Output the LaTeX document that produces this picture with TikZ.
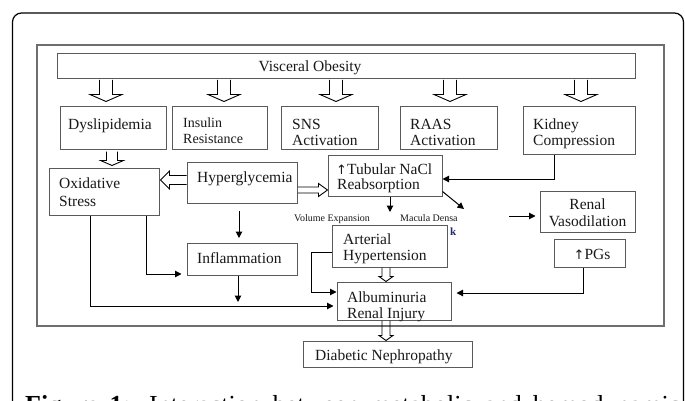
\documentclass[tikz,border=0pt]{standalone}
\usepackage{fontspec}
\setmainfont{Liberation Serif}
\newfontfamily\arrowfont{DejaVu Sans}
\usetikzlibrary{calc,arrows.meta}
\definecolor{boxgray}{RGB}{90,90,90}
\definecolor{framegray}{RGB}{110,110,110}
\definecolor{txtblack}{RGB}{25,25,25}
\definecolor{kblue}{RGB}{30,40,110}
\newcommand\upar{{\arrowfont\fontsize{13}{13}\selectfont ↑}}
\tikzset{
  box/.style={draw=boxgray, line width=1pt, rectangle, inner sep=0pt},
  txt/.style={inner sep=0pt, anchor=base west, align=left, text=txtblack, font=\fontsize{15.5}{17}\selectfont},
  ctxt/.style={txt, anchor=base, align=center},
  small/.style={inner sep=0pt, anchor=base west, text=txtblack, font=\fontsize{10}{11}\selectfont},
  arr/.style={draw=black, line width=1pt, -{Triangle[length=6.5pt,width=6.5pt]}},
  hol/.style={draw=black, line width=0.9pt, line join=miter},
}
\newcommand\hollowarrow[5]{%
  \coordinate (hA) at #1;
  \coordinate (hB) at #2;
  \coordinate (hC) at ($(hB)!#5!(hA)$);
  \draw[hol] ($(hA)!#3!90:(hB)$) -- ($(hC)!#3!-90:(hA)$) -- ($(hC)!#4!-90:(hA)$)
    -- (hB) -- ($(hC)!#4!90:(hA)$) -- ($(hC)!#3!90:(hA)$) -- ($(hA)!#3!-90:(hB)$);
}
\begin{document}
\begin{tikzpicture}[x=1pt,y=-1pt]
\useasboundingbox (0,0) rectangle (685,401);
\clip (0,0) rectangle (685,401);
\fill[white] (0,0) rectangle (685,401);

% frames
\draw[black, line width=1.2pt, rounded corners=9pt] (12.5,440) -- (12.5,13) -- (683.5,13) -- (683.5,440);
\draw[framegray, line width=1.5pt] (37,45) rectangle (664,326);

% boxes
\node[box, minimum width=578pt, minimum height=25pt] (vo) at (346,66.5) {};
\node[box, minimum width=106pt, minimum height=42pt] (dys) at (113,128) {};
\node[box, minimum width=95pt, minimum height=42pt] (ins) at (219.5,128) {};
\node[box, minimum width=97pt, minimum height=42pt] (sns) at (329.5,128) {};
\node[box, minimum width=97pt, minimum height=42pt] (raas) at (448.5,128) {};
\node[box, minimum width=112pt, minimum height=47pt] (kid) at (579,130.5) {};
\node[box, minimum width=110pt, minimum height=47pt] (oxi) at (104,191.5) {};
\node[box, minimum width=110pt, minimum height=41pt] (hyp) at (242,182.5) {};
\node[box, minimum width=114pt, minimum height=41pt] (tub) at (385,175.5) {};
\node[box, minimum width=110pt, minimum height=32pt] (infl) at (242,259.5) {};
\node[box, minimum width=115pt, minimum height=42pt] (art) at (389.5,246) {};
\node[box, minimum width=114pt, minimum height=38pt] (alb) at (394,301) {};
\node[box, minimum width=95pt, minimum height=41pt] (rv) at (587.5,211.5) {};
\node[box, minimum width=71pt, minimum height=28pt] (pgs) at (589.5,253) {};
\node[box, minimum width=169pt, minimum height=26pt] (dn) at (387.5,354) {};

% texts (base = baseline of the last line)
\node[ctxt] (vot) at (310,72) {Visceral Obesity};
\node[txt] (dyst) at (68,129) {Dyslipidemia};
\node[txt, font=\fontsize{14}{15.5}\selectfont] (inst) at (183,143) {Insulin\\Resistance};
\node[txt] (snst) at (292,146) {SNS\\Activation};
\node[txt] (raast) at (410,146) {RAAS\\Activation};
\node[txt] (kidt) at (533,146) {Kidney\\Compression};
\node[txt, font=\fontsize{15.5}{17.5}\selectfont] (oxit) at (59,206) {Oxidative\\Stress};
\node[txt] (hypt) at (197,182) {Hyperglycemia};
\node[txt, font=\fontsize{15.5}{15}\selectfont] (tubt) at (336,189) {\upar Tubular NaCl\\\hspace{1pt}Reabsorption};
\node[txt] (inflt) at (197,263) {Inflammation};
\node[txt, font=\fontsize{15.5}{16}\selectfont] (artt) at (343,260) {Arterial\\Hypertension};
\node[txt, font=\fontsize{15.5}{16}\selectfont] (albt) at (347,318) {Albuminuria\\Renal Injury};
\node[ctxt] (rvt) at (587.5,226) {Renal\\Vasodilation};
\node[ctxt] (pgst) at (592,259) {\upar PGs};
\node[txt] (dnt) at (315,360) {Diabetic Nephropathy};
\node[small] (volt) at (294,221.5) {Volume Expansion};
\node[small] (mdt) at (400,221.5) {Macula Densa};
\node[small, text=kblue, font=\fontsize{11}{12}\selectfont\bfseries] (kt) at (450,235) {k};

% caption (cut by the lower edge)
\node[anchor=base west, inner sep=0pt, text=black, font=\fontsize{26}{26}\selectfont] (cap) at (25,413)
  {\makebox[655pt][s]{\textbf{Figure 1:} Interaction between metabolic and hemodynamic}};

% hollow arrows from Visceral Obesity
\hollowarrow{($(dys.north |- vo.south)+(-7,0.5)$)}{($(dys.north)+(-7,-5)$)}{6.5pt}{16pt}{7pt}
\hollowarrow{($(ins.north |- vo.south)+(4.5,0.5)$)}{($(ins.north)+(4.5,-5)$)}{6.5pt}{16pt}{7pt}
\hollowarrow{($(sns.north |- vo.south)+(6.5,0.5)$)}{($(sns.north)+(6.5,-5)$)}{6.5pt}{16pt}{7pt}
\hollowarrow{($(raas.north |- vo.south)+(1.5,0.5)$)}{($(raas.north)+(1.5,-5)$)}{6.5pt}{16pt}{7pt}
\hollowarrow{($(kid.north |- vo.south)+(2,0.5)$)}{($(kid.north)+(2,-5)$)}{6.5pt}{16pt}{7pt}

% other hollow arrows
\hollowarrow{($(dys.south)+(-1,2)$)}{($(dys.south |- oxi.north)+(-1,-2)$)}{5.5pt}{11.5pt}{5pt}
\hollowarrow{($(hyp.west)+(0,-2.5)$)}{($(hyp.west -| oxi.east)+(1,-2.5)$)}{4.5pt}{9pt}{9pt}
\hollowarrow{($(hyp.east)+(0,7.5)$)}{($(hyp.east -| tub.west)+(0,7.5)$)}{3pt}{6.5pt}{9pt}
\hollowarrow{($(art.south)+(-3.5,0)$)}{($(art.south |- alb.north)+(-3.5,0)$)}{4pt}{7pt}{5pt}
\hollowarrow{($(alb.south)+(-8,0)$)}{($(alb.south |- dn.north)+(-8,0)$)}{4pt}{7pt}{5pt}

% solid arrows
\coordinate (inflend) at (238,302);
\coordinate (volend) at (390,212);
\coordinate (mdend) at (464,209);
\coordinate (rvstart) at (509,216);
\draw[arr] ($(hyp.south)+(-3,7)$) -- ($(infl.north)+(-3,-5)$);
\draw[arr] ($(oxi.south)+(42,0)$) |- ($(infl.west)+(-5,14.5)$);
\draw[arr] ($(oxi.south)+(-14,0)$) |- ($(alb.west)+(-3,5)$);
\draw[arr] ($(infl.south)+(-4,0)$) -- (inflend);
\draw[arr] ($(tub.south)+(5,0)$) -- (volend);
\draw[arr] ($(tub.south east)+(0,-5)$) -- (mdend);
\draw[arr] (rvstart) -- ($(rv.west)+(-4,4.5)$);
\draw[arr] ($(kid.south)+(-25,0)$) |- ($(tub.east)+(0,3.5)$);
\draw[arr] ($(pgs.south)+(-6.5,0)$) |- ($(alb.east)+(5,-8)$);
\draw[arr] ($(art.west)+(0,6)$) -- ++(-20,0) |- ($(alb.west)+(0,-9)$);
\end{tikzpicture}
\end{document}
